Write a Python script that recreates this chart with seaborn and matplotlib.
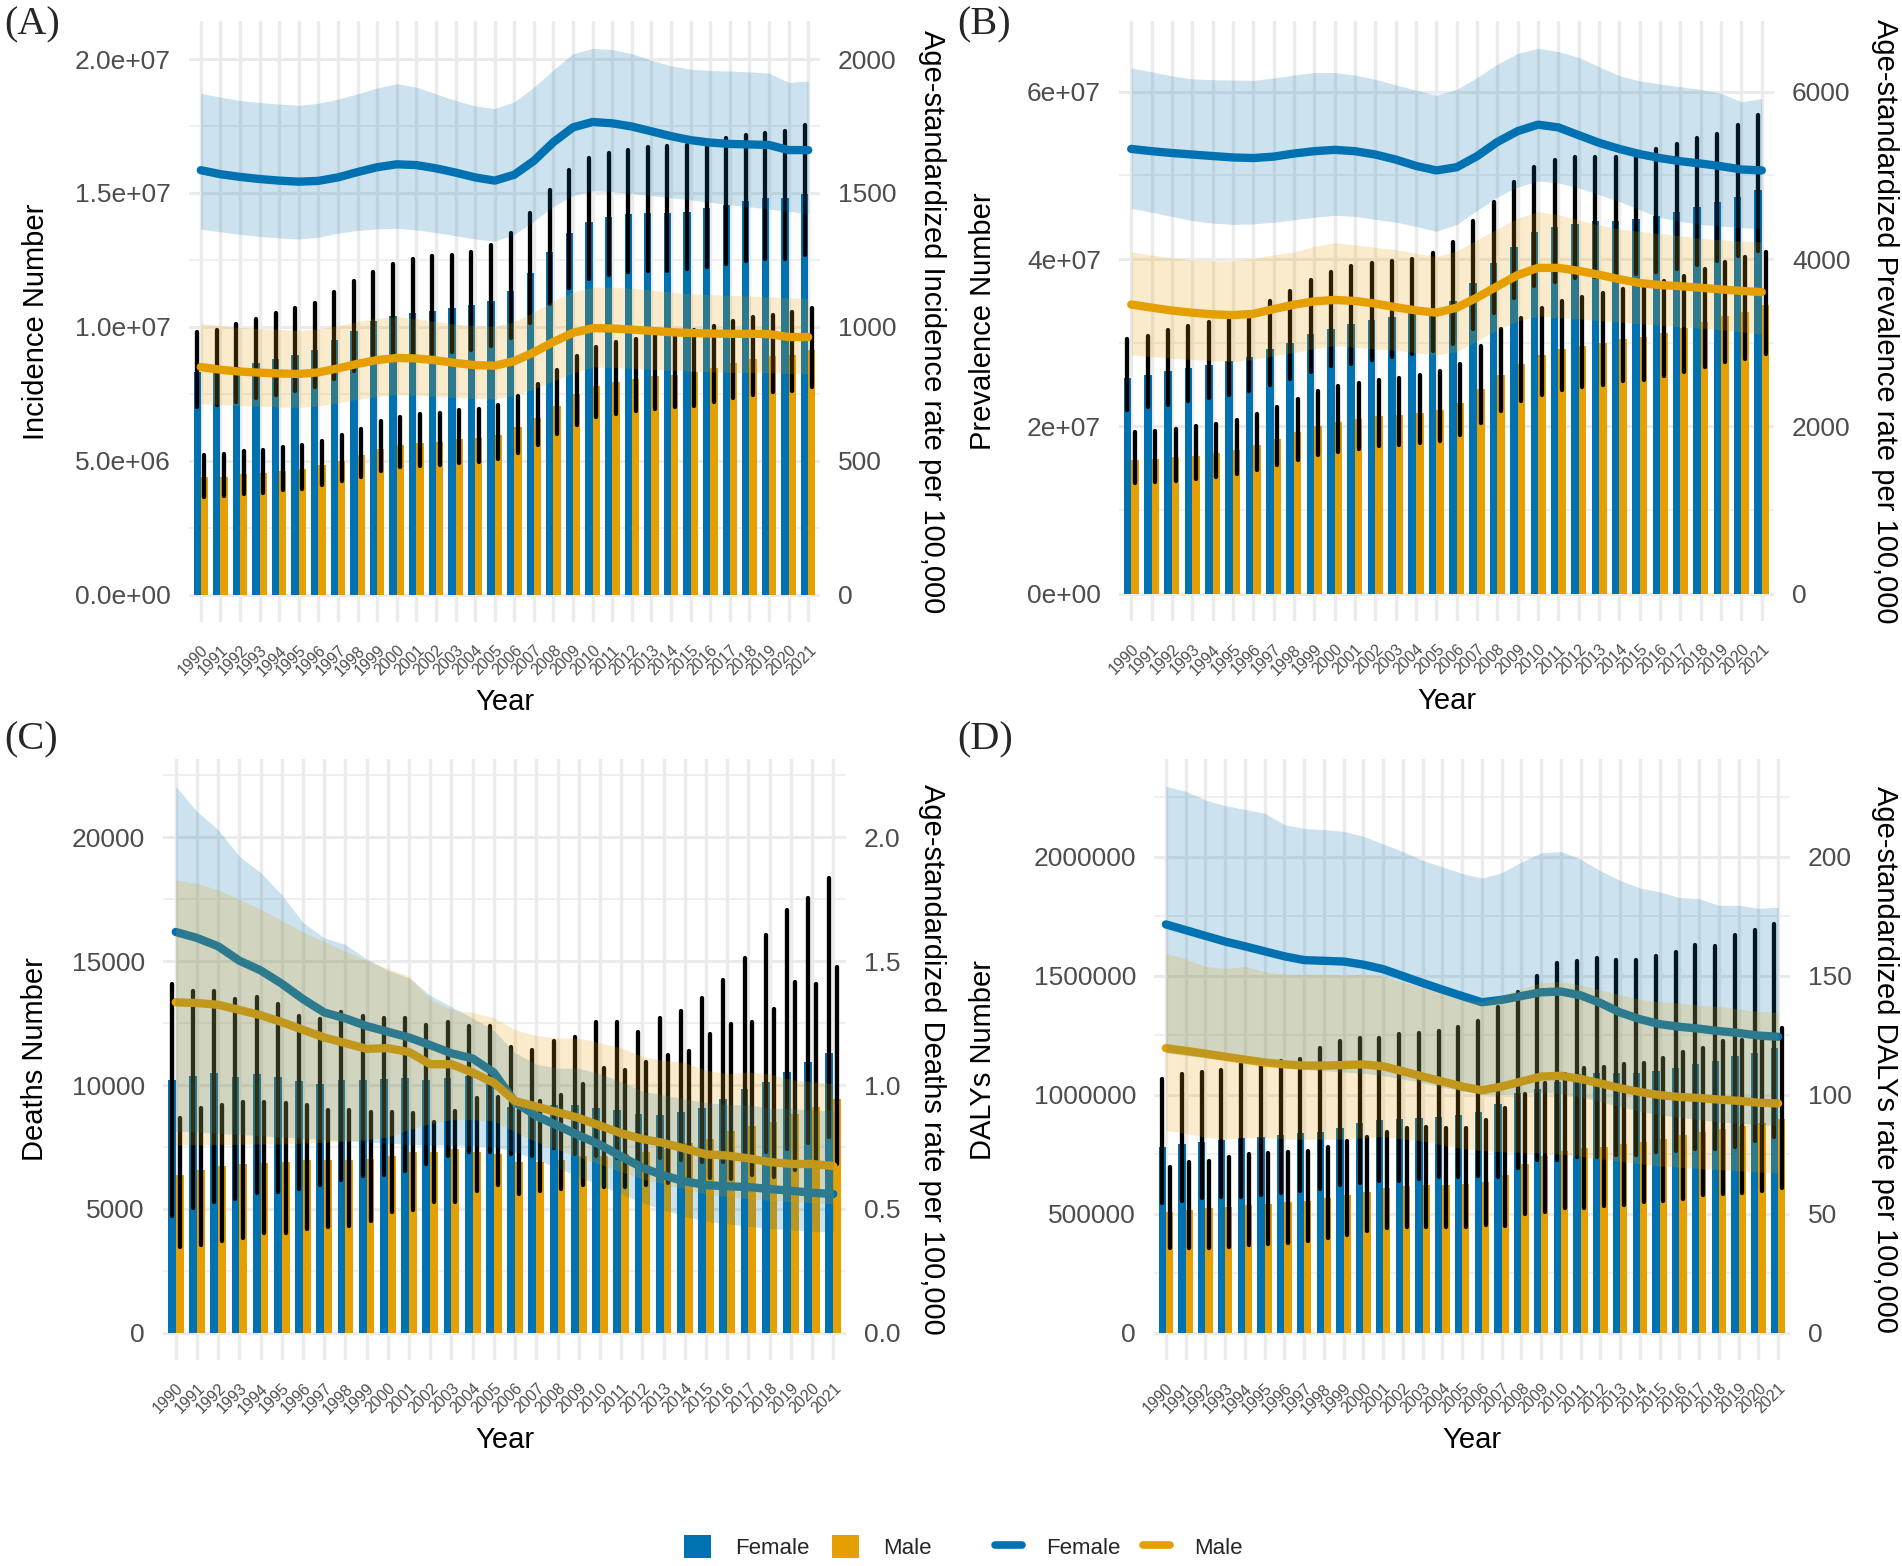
import numpy as np
import pandas as pd
import seaborn as sns
import matplotlib
matplotlib.use("Agg")
import matplotlib.pyplot as plt
from matplotlib.lines import Line2D
from matplotlib.patches import Patch
from matplotlib.ticker import MultipleLocator, FuncFormatter

# ---------------- values ----------------
years = list(range(1990, 2022))
sexes = ["Female", "Male"]

# (A) Incidence number, millions
inc_f = [8.30, 8.40, 8.50, 8.65, 8.80, 8.95, 9.15, 9.50, 9.85, 10.20, 10.40, 10.50, 10.60, 10.70, 10.80, 10.95,
         11.35, 12.00, 12.80, 13.50, 13.90, 14.10, 14.20, 14.25, 14.25, 14.30, 14.45, 14.55, 14.70, 14.80, 14.80, 14.95]
inc_f_lo = [7.00, 7.10, 7.20, 7.35, 7.45, 7.60, 7.75, 8.05, 8.35, 8.65, 8.85, 8.90, 9.00, 9.05, 9.15, 9.30,
            9.60, 10.15, 10.85, 11.45, 11.80, 11.95, 12.05, 12.10, 12.10, 12.15, 12.25, 12.35, 12.45, 12.55, 12.55, 12.70]
inc_f_hi = [9.80, 9.90, 10.10, 10.30, 10.50, 10.70, 10.90, 11.30, 11.70, 12.05, 12.35, 12.55, 12.65, 12.70, 12.80, 13.05,
            13.50, 14.25, 15.10, 15.85, 16.30, 16.50, 16.60, 16.70, 16.75, 16.80, 16.90, 17.05, 17.15, 17.25, 17.30, 17.55]
inc_m = [4.40, 4.40, 4.50, 4.55, 4.60, 4.70, 4.85, 5.00, 5.20, 5.45, 5.60, 5.65, 5.70, 5.80, 5.85, 5.95,
         6.25, 6.60, 7.05, 7.50, 7.80, 7.95, 8.05, 8.15, 8.20, 8.30, 8.45, 8.65, 8.80, 8.90, 8.95, 9.15]
inc_m_lo = [3.65, 3.70, 3.75, 3.80, 3.90, 3.95, 4.10, 4.25, 4.40, 4.60, 4.75, 4.80, 4.85, 4.90, 4.95, 5.05,
            5.30, 5.60, 6.00, 6.35, 6.65, 6.75, 6.85, 6.95, 7.00, 7.05, 7.20, 7.35, 7.45, 7.55, 7.60, 7.75]
inc_m_hi = [5.20, 5.25, 5.35, 5.40, 5.50, 5.60, 5.75, 5.95, 6.20, 6.50, 6.65, 6.75, 6.80, 6.90, 6.95, 7.10,
            7.40, 7.85, 8.40, 8.90, 9.25, 9.45, 9.55, 9.70, 9.75, 9.90, 10.05, 10.20, 10.35, 10.45, 10.55, 10.70]
# (A) Age-standardized incidence rate per 100,000
inc_rf = [1585, 1570, 1560, 1552, 1546, 1542, 1545, 1558, 1578, 1596, 1607, 1604, 1592, 1576, 1558, 1546,
          1568, 1620, 1690, 1745, 1765, 1760, 1748, 1730, 1712, 1697, 1688, 1683, 1681, 1679, 1660, 1660]
inc_rf_lo = [1365, 1355, 1345, 1338, 1332, 1328, 1335, 1350, 1360, 1366, 1368, 1362, 1352, 1340, 1328, 1320,
             1345, 1395, 1450, 1490, 1508, 1505, 1498, 1490, 1482, 1474, 1465, 1456, 1448, 1440, 1431, 1422]
inc_rf_hi = [1872, 1858, 1845, 1838, 1832, 1827, 1835, 1850, 1870, 1892, 1908, 1895, 1870, 1845, 1825, 1815,
             1840, 1895, 1960, 2020, 2040, 2035, 2020, 1995, 1975, 1962, 1957, 1955, 1952, 1947, 1913, 1918]
inc_rm = [850, 840, 833, 829, 826, 824, 830, 845, 862, 876, 884, 882, 875, 865, 857, 855,
          872, 905, 944, 978, 995, 994, 990, 985, 980, 977, 975, 974, 974, 973, 962, 962]
inc_rm_lo = [713, 710, 706, 704, 701, 699, 705, 716, 730, 740, 747, 745, 740, 737, 733, 730,
             744, 768, 798, 828, 850, 848, 845, 841, 838, 835, 832, 830, 829, 829, 826, 824]
inc_rm_hi = [1012, 1005, 998, 993, 990, 987, 992, 1005, 1020, 1032, 1038, 1030, 1020, 1010, 1005, 1003,
             1020, 1055, 1097, 1130, 1149, 1148, 1144, 1138, 1130, 1123, 1120, 1118, 1115, 1112, 1108, 1106]

# (B) Prevalence number, 1e7
prev_f = [2.58, 2.62, 2.66, 2.70, 2.74, 2.78, 2.83, 2.92, 3.00, 3.10, 3.17, 3.22, 3.27, 3.31, 3.36, 3.40,
          3.50, 3.72, 3.95, 4.15, 4.32, 4.38, 4.42, 4.45, 4.46, 4.48, 4.52, 4.56, 4.62, 4.68, 4.74, 4.82]
prev_f_lo = [2.20, 2.23, 2.26, 2.30, 2.34, 2.37, 2.42, 2.50, 2.57, 2.65, 2.72, 2.75, 2.79, 2.83, 2.86, 2.90,
             2.98, 3.17, 3.36, 3.54, 3.68, 3.73, 3.77, 3.79, 3.80, 3.82, 3.85, 3.88, 3.93, 3.98, 4.04, 4.10]
prev_f_hi = [3.05, 3.08, 3.15, 3.20, 3.25, 3.30, 3.37, 3.50, 3.62, 3.75, 3.85, 3.92, 3.95, 3.98, 4.00, 4.07,
             4.20, 4.45, 4.68, 4.92, 5.10, 5.18, 5.22, 5.22, 5.22, 5.24, 5.32, 5.38, 5.45, 5.50, 5.60, 5.72]
prev_m = [1.60, 1.61, 1.63, 1.65, 1.68, 1.72, 1.78, 1.85, 1.93, 2.00, 2.05, 2.09, 2.12, 2.14, 2.16, 2.20,
          2.28, 2.45, 2.62, 2.75, 2.85, 2.92, 2.96, 3.00, 3.04, 3.07, 3.12, 3.18, 3.25, 3.32, 3.37, 3.45]
prev_m_lo = [1.32, 1.33, 1.35, 1.37, 1.39, 1.43, 1.48, 1.54, 1.60, 1.66, 1.70, 1.73, 1.76, 1.78, 1.80, 1.83,
             1.90, 2.04, 2.18, 2.30, 2.38, 2.44, 2.47, 2.50, 2.54, 2.56, 2.60, 2.65, 2.71, 2.77, 2.81, 2.87]
prev_m_hi = [1.93, 1.94, 1.97, 2.00, 2.03, 2.08, 2.15, 2.23, 2.33, 2.42, 2.48, 2.52, 2.56, 2.58, 2.61, 2.66,
             2.75, 2.96, 3.16, 3.30, 3.42, 3.50, 3.55, 3.59, 3.64, 3.68, 3.74, 3.80, 3.88, 3.96, 4.02, 4.08]
prev_rf = [5317, 5290, 5268, 5250, 5232, 5215, 5208, 5225, 5262, 5290, 5306, 5290, 5250, 5190, 5114, 5060,
           5098, 5230, 5400, 5530, 5607, 5574, 5481, 5390, 5317, 5255, 5207, 5170, 5142, 5110, 5071, 5060]
prev_rf_lo = [4606, 4560, 4510, 4459, 4430, 4415, 4420, 4440, 4469, 4500, 4524, 4510, 4475, 4442, 4390, 4332,
              4415, 4580, 4743, 4860, 4934, 4910, 4852, 4770, 4688, 4590, 4497, 4450, 4415, 4395, 4376, 4360]
prev_rf_hi = [6285, 6240, 6190, 6154, 6145, 6140, 6137, 6165, 6200, 6230, 6230, 6200, 6150, 6083, 6020, 5957,
              6028, 6170, 6329, 6460, 6520, 6480, 6411, 6300, 6192, 6130, 6094, 6060, 6028, 5980, 5880, 5918]
prev_rm = [3457, 3420, 3385, 3359, 3340, 3331, 3345, 3402, 3455, 3495, 3512, 3500, 3468, 3425, 3386, 3359,
           3419, 3540, 3676, 3810, 3895, 3895, 3860, 3813, 3760, 3714, 3690, 3676, 3657, 3638, 3620, 3605]
prev_rm_lo = [2855, 2835, 2815, 2800, 2785, 2773, 2800, 2845, 2883, 2930, 2965, 2945, 2925, 2910, 2880, 2855,
              2894, 3020, 3156, 3260, 3320, 3300, 3285, 3265, 3245, 3228, 3210, 3192, 3175, 3156, 3130, 3101]
prev_rm_hi = [4086, 4050, 4015, 3988, 3980, 3977, 4010, 4050, 4086, 4150, 4196, 4170, 4140, 4114, 4070, 4031,
              4097, 4230, 4360, 4490, 4567, 4530, 4469, 4410, 4360, 4330, 4305, 4280, 4250, 4230, 4215, 4206]

# (C) Deaths number
death_f = [10220, 10370, 10480, 10340, 10430, 10340, 10170, 10060, 10190, 10220, 10250, 10280, 10220, 10280, 10370, 10140,
           9100, 9130, 9210, 9210, 9060, 8980, 8820, 8790, 8900, 9060, 9440, 9830, 10140, 10530, 10940, 11300]
death_f_lo = [4720, 5030, 5290, 5390, 5650, 5700, 5810, 5960, 6160, 6320, 6380, 6530, 6810, 7120, 7280, 7280,
              7200, 7150, 7460, 7200, 7120, 7040, 6890, 7040, 6970, 6890, 6890, 6970, 7280, 7430, 7660, 7900]
death_f_hi = [14060, 13810, 13780, 13470, 13550, 13280, 12770, 12660, 12930, 12800, 12690, 12690, 12420, 12540, 12380, 12380,
              11530, 11420, 11770, 11950, 12540, 12540, 12140, 12690, 12970, 13510, 14240, 15140, 16070, 17060, 17570, 18340]
death_m = [6350, 6580, 6730, 6810, 6840, 6890, 6970, 6970, 6970, 7010, 7120, 7280, 7310, 7400, 7280, 7200,
           6890, 6890, 6970, 7120, 7120, 7200, 7280, 7430, 7660, 7820, 8130, 8360, 8510, 8820, 9130, 9440]
death_m_lo = [3440, 3530, 3720, 3840, 4030, 4030, 4180, 4260, 4300, 4490, 4880, 4950, 5290, 5260, 5730, 5960,
              5600, 5730, 5810, 5960, 5880, 5880, 5960, 6050, 6150, 6250, 6190, 6350, 6270, 6580, 6890, 6810]
death_m_hi = [8670, 9090, 9210, 9330, 9320, 9290, 9210, 9010, 9010, 8900, 8900, 8860, 8510, 8950, 9470, 9520,
              8980, 9370, 9600, 10060, 10680, 10600, 10910, 11220, 11380, 12040, 12460, 12540, 13080, 14160, 14090, 14780]
death_rf = [1.618, 1.594, 1.560, 1.502, 1.463, 1.409, 1.347, 1.293, 1.269, 1.238, 1.215, 1.192, 1.161, 1.128, 1.107, 1.050,
            0.930, 0.875, 0.836, 0.797, 0.759, 0.712, 0.666, 0.635, 0.611, 0.596, 0.591, 0.588, 0.580, 0.573, 0.565, 0.560]
death_rf_lo = [0.813, 0.810, 0.805, 0.800, 0.795, 0.790, 0.785, 0.780, 0.775, 0.770, 0.765, 0.760, 0.758, 0.758, 0.755, 0.750,
               0.730, 0.700, 0.665, 0.630, 0.595, 0.560, 0.525, 0.495, 0.470, 0.450, 0.440, 0.430, 0.420, 0.415, 0.410, 0.405]
death_rf_hi = [2.206, 2.105, 2.031, 1.923, 1.858, 1.768, 1.656, 1.594, 1.567, 1.509, 1.463, 1.432, 1.362, 1.316, 1.270, 1.220,
               1.130, 1.084, 1.068, 1.068, 1.045, 1.014, 0.975, 0.960, 0.944, 0.929, 0.921, 0.921, 0.906, 0.906, 0.898, 0.898]
death_rm = [1.334, 1.331, 1.324, 1.303, 1.282, 1.254, 1.223, 1.192, 1.169, 1.146, 1.149, 1.133, 1.084, 1.084, 1.050, 1.009,
            0.935, 0.913, 0.890, 0.867, 0.836, 0.805, 0.782, 0.766, 0.743, 0.720, 0.715, 0.704, 0.689, 0.681, 0.681, 0.673]
death_rm_lo = [0.758, 0.758, 0.760, 0.760, 0.762, 0.762, 0.765, 0.768, 0.772, 0.780, 0.790, 0.820, 0.845, 0.860, 0.860, 0.855,
               0.810, 0.770, 0.740, 0.710, 0.680, 0.650, 0.620, 0.600, 0.580, 0.560, 0.550, 0.540, 0.535, 0.530, 0.525, 0.520]
death_rm_hi = [1.827, 1.814, 1.788, 1.749, 1.710, 1.664, 1.618, 1.579, 1.540, 1.502, 1.471, 1.440, 1.347, 1.303, 1.293, 1.272,
               1.223, 1.200, 1.189, 1.190, 1.170, 1.150, 1.115, 1.099, 1.091, 1.060, 1.045, 1.053, 1.045, 1.022, 1.014, 1.006]

# (D) DALYs number, thousands
daly_f = [781, 794, 802, 808, 818, 821, 829, 840, 845, 861, 879, 894, 898, 902, 906, 914,
          926, 961, 1006, 1022, 1055, 1087, 1092, 1092, 1092, 1098, 1111, 1130, 1143, 1162, 1175, 1195]
daly_f_lo = [544, 555, 564, 572, 572, 580, 588, 596, 604, 620, 628, 636, 636, 644, 652, 652,
             660, 652, 692, 724, 724, 740, 740, 748, 748, 757, 765, 770, 770, 781, 805, 824]
daly_f_hi = [1066, 1087, 1095, 1103, 1127, 1124, 1143, 1151, 1195, 1224, 1236, 1236, 1256, 1259, 1269, 1285,
             1311, 1368, 1430, 1500, 1554, 1562, 1573, 1566, 1565, 1583, 1599, 1629, 1626, 1671, 1690, 1715]
daly_m = [507, 515, 523, 528, 535, 539, 547, 555, 564, 580, 592, 609, 615, 620, 620, 623,
          634, 663, 708, 741, 765, 776, 781, 792, 802, 813, 829, 845, 857, 869, 882, 898]
daly_m_lo = [354, 354, 357, 362, 367, 374, 378, 386, 399, 411, 427, 438, 443, 443, 443, 443,
             451, 448, 499, 507, 523, 523, 531, 535, 547, 555, 563, 580, 583, 588, 596, 609]
daly_m_hi = [696, 716, 720, 736, 749, 753, 760, 765, 781, 805, 824, 845, 861, 866, 861, 861,
             895, 942, 1001, 1050, 1085, 1111, 1116, 1130, 1132, 1154, 1179, 1195, 1224, 1228, 1250, 1280]
daly_rf = [171.5, 169.1, 166.7, 164.3, 162.3, 160.2, 158.1, 156.5, 156.2, 155.9, 154.6, 152.7, 149.8, 146.9, 144.1, 141.4,
           138.8, 139.8, 141.4, 143.0, 143.3, 141.7, 138.5, 134.5, 131.7, 129.6, 128.5, 127.7, 126.7, 125.9, 124.8, 124.3]
daly_rf_lo = [117.5, 116.5, 115.5, 114.5, 113.5, 112.5, 111.5, 110.5, 110.0, 109.5, 109.0, 108.0, 106.5, 105.0, 103.0, 101.5,
              100.0, 100.0, 100.5, 101.0, 100.5, 99.0, 97.0, 95.0, 93.0, 91.5, 90.5, 89.5, 88.5, 88.0, 87.5, 87.0]
daly_rf_hi = [229.5, 227.4, 223.8, 221.4, 219.8, 218.2, 213.4, 211.8, 211.3, 210.6, 208.5, 205.3, 202.1, 198.4, 195.7, 192.9,
              191.0, 193.2, 197.7, 201.6, 202.1, 198.9, 194.0, 190.0, 186.8, 185.2, 182.8, 182.3, 179.5, 179.5, 178.3, 178.7]
daly_rm = [119.5, 118.4, 117.2, 115.9, 114.7, 113.5, 112.7, 112.2, 112.2, 112.4, 112.7, 111.9, 109.8, 107.6, 105.5, 103.4,
           101.8, 103.4, 105.5, 107.6, 107.9, 106.6, 104.7, 102.7, 101.1, 99.8, 99.0, 98.6, 97.9, 97.4, 96.6, 96.3]
daly_rm_lo = [85.0, 83.7, 82.1, 81.3, 82.0, 81.8, 81.3, 81.3, 81.3, 81.3, 81.8, 82.4, 81.3, 80.5, 78.9, 77.3,
              76.5, 76.0, 75.7, 75.5, 75.0, 74.0, 73.0, 72.0, 71.0, 70.0, 69.5, 69.0, 68.5, 68.0, 67.5, 67.0]
daly_rm_hi = [159.4, 157.0, 153.8, 153.0, 153.8, 151.7, 150.6, 150.6, 150.6, 150.1, 150.6, 149.8, 147.3, 144.9, 142.5, 139.8,
              139.0, 141.5, 144.5, 147.0, 147.5, 146.0, 144.0, 142.0, 140.0, 139.0, 138.5, 137.5, 137.0, 136.0, 135.0, 134.5]

# ---------------- style ----------------
sns.set_theme(style="white")
plt.rcParams["font.family"] = ["Liberation Sans", "DejaVu Sans"]

W, H = 1902, 1566
fig = plt.figure(figsize=(W / 100, H / 100), dpi=100)
pal = {"Female": "#0072B2", "Male": "#E69F00"}
txt_grey = "#4d4d4d"
grid_col = "#ebebeb"
RATE_SCALE = 1e4  # secondary axis: count = rate * 1e4


def px_rect(x0, y0, x1, y1):
    return [x0 / W, 1 - y1 / H, (x1 - x0) / W, (y1 - y0) / H]


def fig_xy(x, y):
    return x / W, 1 - y / H


def panel(box, tag, tag_xy, unit, num, rate, ylab, rlab, step, lfmt, rfmt, ylab_x, rlab_x):
    ax = fig.add_axes(px_rect(*box))
    bars = pd.DataFrame({
        "Year": years * 2,
        "Sex": [s for s in sexes for _ in years],
        "Number": np.concatenate([np.array(num[s][0]) for s in sexes]) * unit,
    })
    sns.barplot(data=bars, x="Year", y="Number", hue="Sex", hue_order=sexes, palette=pal,
                native_scale=True, width=0.74, errorbar=None, saturation=1, linewidth=0,
                legend=False, ax=ax, zorder=2)
    # uncertainty intervals of the numbers
    for cont, s in zip(ax.containers, sexes):
        xs = [p.get_x() + p.get_width() / 2 for p in cont]
        ax.vlines(xs, np.array(num[s][1]) * unit, np.array(num[s][2]) * unit,
                  color="black", lw=3.1, capstyle="round", zorder=3)

    ax2 = ax.twinx()
    lines = pd.DataFrame({
        "Year": years * 2,
        "Sex": [s for s in sexes for _ in years],
        "Rate": np.concatenate([np.array(rate[s][0]) for s in sexes]),
    })
    sns.lineplot(data=lines, x="Year", y="Rate", hue="Sex", hue_order=sexes, palette=pal,
                 lw=6, legend=False, ax=ax2, zorder=2)
    for s in sexes:
        ax2.fill_between(years, rate[s][1], rate[s][2], color=pal[s], alpha=0.2, lw=0, zorder=3)

    top = max(max(max(num[s][2]) * unit for s in sexes),
              max(max(rate[s][2]) for s in sexes) * RATE_SCALE)
    ax.set_ylim(-0.05 * top, 1.05 * top)
    ax2.set_ylim(-0.05 * top / RATE_SCALE, 1.05 * top / RATE_SCALE)
    ax.set_xlim(years[0] - 0.6, years[-1] + 0.6)

    # grid like theme_minimal
    ax.set_axisbelow(True)
    ax.yaxis.set_major_locator(MultipleLocator(step))
    ax.yaxis.set_minor_locator(MultipleLocator(step / 2))
    ax.grid(which="major", axis="y", color=grid_col, lw=2.2)
    ax.grid(which="minor", axis="y", color=grid_col, lw=1.1)
    ax.grid(which="major", axis="x", color=grid_col, lw=2.4)
    ax2.grid(False)
    ax2.yaxis.set_major_locator(MultipleLocator(step / RATE_SCALE))

    ax.set_xticks(years)
    ax.set_xticklabels([str(y) for y in years], rotation=45, ha="right", va="top",
                       rotation_mode="anchor", fontsize=11.5, color=txt_grey)
    ax.yaxis.set_major_formatter(FuncFormatter(lambda v, p: lfmt.format(v)))
    ax2.yaxis.set_major_formatter(FuncFormatter(lambda v, p: rfmt.format(v)))
    ax.tick_params(which="both", length=0)
    ax2.tick_params(which="both", length=0)
    ax.tick_params(axis="x", pad=15)
    ax.tick_params(axis="y", labelsize=19, labelcolor=txt_grey, pad=13)
    ax2.tick_params(axis="y", labelsize=19, labelcolor=txt_grey, pad=13)
    for a in (ax, ax2):
        for sp in a.spines.values():
            sp.set_visible(False)

    x0, y0, x1, y1 = box
    cy = (y0 + y1) / 2
    ax.set_xlabel("Year", fontsize=21, color="black")
    ax.xaxis.set_label_coords(*fig_xy((x0 + x1) / 2, y1 + 80), transform=fig.transFigure)
    ax.xaxis.label.set_va("center")
    ax.set_ylabel(ylab, fontsize=21, color="black")
    ax.yaxis.set_label_coords(*fig_xy(ylab_x, cy), transform=fig.transFigure)
    ax.yaxis.label.set_va("center")
    ax2.set_ylabel(rlab, fontsize=21, color="black", rotation=270)
    ax2.yaxis.set_label_coords(*fig_xy(rlab_x, cy), transform=fig.transFigure)
    ax2.yaxis.label.set_va("center")
    ax2.yaxis.label.set_ha("center")

    fig.text(*fig_xy(*tag_xy), tag, fontsize=29, family=["Liberation Serif", "DejaVu Serif"],
             ha="left", va="top")
    return ax, ax2


panel((189, 21, 820, 622), "(A)", (4, 6), 1e6,
      {"Female": (inc_f, inc_f_lo, inc_f_hi), "Male": (inc_m, inc_m_lo, inc_m_hi)},
      {"Female": (inc_rf, inc_rf_lo, inc_rf_hi), "Male": (inc_rm, inc_rm_lo, inc_rm_hi)},
      "Incidence Number", "Age-standardized Incidence rate per 100,000",
      5e6, "{:.1e}", "{:.0f}", 36, 932)

panel((1119, 21, 1774, 621), "(B)", (957, 6), 1e7,
      {"Female": (prev_f, prev_f_lo, prev_f_hi), "Male": (prev_m, prev_m_lo, prev_m_hi)},
      {"Female": (prev_rf, prev_rf_lo, prev_rf_hi), "Male": (prev_rm, prev_rm_lo, prev_rm_hi)},
      "Prevalence Number", "Age-standardized Prevalence rate per 100,000",
      2e7, "{:.0e}", "{:.0f}", 983, 1885)

panel((163, 759, 846, 1360), "(C)", (4, 721), 1,
      {"Female": (death_f, death_f_lo, death_f_hi), "Male": (death_m, death_m_lo, death_m_hi)},
      {"Female": (death_rf, death_rf_lo, death_rf_hi), "Male": (death_rm, death_rm_lo, death_rm_hi)},
      "Deaths Number", "Age-standardized Deaths rate per 100,000",
      5000, "{:.0f}", "{:.1f}", 35, 932)

panel((1154, 759, 1790, 1360), "(D)", (957, 721), 1e3,
      {"Female": (daly_f, daly_f_lo, daly_f_hi), "Male": (daly_m, daly_m_lo, daly_m_hi)},
      {"Female": (daly_rf, daly_rf_lo, daly_rf_hi), "Male": (daly_rm, daly_rm_lo, daly_rm_hi)},
      "DALYs Number", "Age-standardized DALYs rate per 100,000",
      500000, "{:.0f}", "{:.0f}", 983, 1885)

# shared legend at the bottom
fill_keys = [Patch(facecolor=pal[s], edgecolor="none", label=s) for s in sexes]
line_keys = [Line2D([0], [0], color=pal[s], lw=5.5, label=s) for s in sexes]
leg_kw = dict(ncol=2, frameon=False, fontsize=16, handlelength=1.2, handleheight=1.17,
              handletextpad=1.08, columnspacing=1.04, borderpad=0, borderaxespad=0,
              loc="center left")
fig.legend(handles=fill_keys, bbox_to_anchor=fig_xy(684, 1547), **leg_kw)
fig.legend(handles=line_keys, bbox_to_anchor=fig_xy(995, 1547), **leg_kw)

fig.savefig("out.png", dpi=100, facecolor="white")
